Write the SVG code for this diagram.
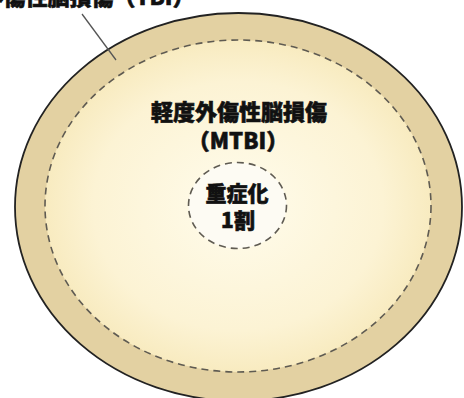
<svg xmlns="http://www.w3.org/2000/svg" width="464" height="398" viewBox="0 0 464 398">
<style>
.t{font-family:"Noto Sans CJK JP","Noto Sans",sans-serif;font-weight:900;fill:#111;stroke:#111;stroke-width:0.6;text-anchor:middle}
.dash{fill:none;stroke:#5f5b52;stroke-width:1.6;stroke-dasharray:7 5}
</style>
<defs>
<radialGradient id="g" cx="0.5" cy="0.5" r="0.5">
<stop offset="0" stop-color="#fffcec"/>
<stop offset="0.75" stop-color="#fcf3d4"/>
<stop offset="1" stop-color="#f8ebc0"/>
</radialGradient>
</defs>
<rect width="464" height="398" fill="#fff"/>
<g id="tbi">
<ellipse cx="238.5" cy="207" rx="223.5" ry="194" fill="#e3d1a2" stroke="#222" stroke-width="1.8"/>
<text class="t" x="88" y="5" font-size="22">外傷性脳損傷（TBI）</text>
</g>
<g id="mtbi">
<ellipse cx="238" cy="206" rx="193" ry="166" class="dash" style="fill:url(#g)"/>
<text class="t" x="239" y="120" font-size="22">軽度外傷性脳損傷</text>
<text class="t" x="238" y="149" font-size="22">（MTBI）</text>
</g>
<g id="severe">
<ellipse cx="237.5" cy="205.5" rx="49" ry="43" class="dash" style="fill:#fdfbf3"/>
<text class="t" x="237" y="201" font-size="21">重症化</text>
<text class="t" x="238" y="228" font-size="21">1割</text>
</g>
<g id="connectors">
<line x1="82" y1="14" x2="116" y2="60" stroke="#555" stroke-width="1.3"/>
</g>
</svg>
